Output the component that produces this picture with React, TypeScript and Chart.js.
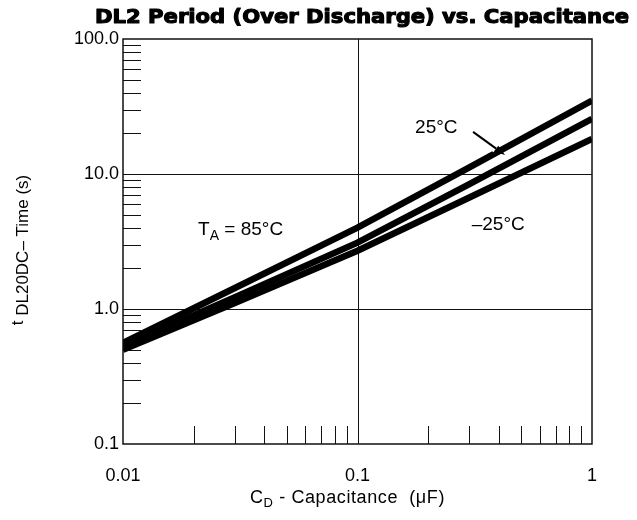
import React, { useEffect, useRef } from "react";
import { Chart, registerables } from "chart.js";

Chart.register(...registerables);

// ---- data ----
const capacitance = [0.01, 0.03, 0.1, 0.3, 1];
const time85 = [0.56, 1.43, 4.0, 11.2, 35];
const time25 = [0.53, 1.22, 3.1, 8.4, 25.6];
const timeMinus25 = [0.5, 1.11, 2.7, 6.7, 18.2];

const xTicks = [0.01, 0.1, 1];
const xTickLabels = ["0.01", "0.1", "1"];
const yTicks = [0.1, 1, 10, 100];
const yTickLabels = ["0.1", "1.0", "10.0", "100.0"];
const minorMultipliers = [2, 3, 4, 5, 6, 7, 8, 9];

const titleText = "DL2 Period (Over Discharge) vs. Capacitance";

// annotation anchors in data space
const label85 = { x: 0.0209, y: 3.53 };
const label25 = { x: 0.176, y: 20.1 };
const labelM25 = { x: 0.307, y: 3.85 };
const arrowFrom = { x: 0.311, y: 20.5 };
const arrowTo = { x: 0.426, y: 13.8 };

const FONT = "'Liberation Sans', Arial, Helvetica, sans-serif";

function pairs(ys: number[]) {
  return capacitance.map((x, i) => ({ x, y: ys[i] }));
}

function labelFor(list: number[], labels: string[], v: number) {
  for (let i = 0; i < list.length; i++) {
    if (Math.abs(Math.log10(list[i]) - Math.log10(v)) < 1e-6) return labels[i];
  }
  return "";
}

const framePlugin = {
  id: "frame",
  beforeDatasetsDraw(chart: any) {
    const { ctx, chartArea: a, scales } = chart;
    const xs = scales.x;
    const ys = scales.y;
    ctx.save();
    ctx.strokeStyle = "#111";
    ctx.lineWidth = 1;
    // major grid lines
    ctx.beginPath();
    for (const v of xTicks) {
      const px = Math.round(xs.getPixelForValue(v)) + 0.5;
      if (px > a.left + 2 && px < a.right - 2) {
        ctx.moveTo(px, a.top);
        ctx.lineTo(px, a.bottom);
      }
    }
    for (const v of yTicks) {
      const py = Math.round(ys.getPixelForValue(v)) + 0.5;
      if (py > a.top + 2 && py < a.bottom - 2) {
        ctx.moveTo(a.left, py);
        ctx.lineTo(a.right, py);
      }
    }
    ctx.stroke();
    // minor ticks
    ctx.beginPath();
    const tickLen = 18;
    for (let d = 0; d < xTicks.length - 1; d++) {
      for (const m of minorMultipliers) {
        const px = Math.round(xs.getPixelForValue(xTicks[d] * m)) + 0.5;
        ctx.moveTo(px, a.bottom);
        ctx.lineTo(px, a.bottom - tickLen);
      }
    }
    for (let d = 0; d < yTicks.length - 1; d++) {
      for (const m of minorMultipliers) {
        const py = Math.round(ys.getPixelForValue(yTicks[d] * m)) + 0.5;
        ctx.moveTo(a.left, py);
        ctx.lineTo(a.left + tickLen, py);
      }
    }
    ctx.stroke();
    ctx.restore();
  },
  afterDatasetsDraw(chart: any) {
    const { ctx, chartArea: a, scales } = chart;
    const xs = scales.x;
    const ys = scales.y;
    ctx.save();
    // border
    ctx.strokeStyle = "#111";
    ctx.lineWidth = 1.5;
    ctx.strokeRect(a.left, a.top, a.right - a.left, a.bottom - a.top);

    // arrow for 25 °C
    const x0 = xs.getPixelForValue(arrowFrom.x);
    const y0 = ys.getPixelForValue(arrowFrom.y);
    const x1 = xs.getPixelForValue(arrowTo.x);
    const y1 = ys.getPixelForValue(arrowTo.y);
    const ang = Math.atan2(y1 - y0, x1 - x0);
    const head = 11;
    const hx = x1 - head * Math.cos(ang);
    const hy = y1 - head * Math.sin(ang);
    // white halo making the break in the upper curve
    ctx.strokeStyle = "#fff";
    ctx.lineWidth = 9;
    ctx.lineCap = "butt";
    ctx.beginPath();
    ctx.moveTo(x0 + 6 * Math.cos(ang), y0 + 6 * Math.sin(ang));
    ctx.lineTo(hx, hy);
    ctx.stroke();
    ctx.strokeStyle = "#000";
    ctx.lineWidth = 2;
    ctx.beginPath();
    ctx.moveTo(x0, y0);
    ctx.lineTo(hx, hy);
    ctx.stroke();
    ctx.fillStyle = "#000";
    ctx.beginPath();
    ctx.moveTo(x1, y1);
    ctx.lineTo(hx + 3.5 * Math.sin(ang), hy - 3.5 * Math.cos(ang));
    ctx.lineTo(hx - 3.5 * Math.sin(ang), hy + 3.5 * Math.cos(ang));
    ctx.closePath();
    ctx.fill();

    // curve labels
    ctx.fillStyle = "#000";
    ctx.textBaseline = "alphabetic";
    ctx.textAlign = "left";
    ctx.font = `19px ${FONT}`;
    ctx.fillText("25°C", xs.getPixelForValue(label25.x), ys.getPixelForValue(label25.y));
    ctx.fillText("\u201325°C", xs.getPixelForValue(labelM25.x), ys.getPixelForValue(labelM25.y));
    let lx = xs.getPixelForValue(label85.x);
    const ly = ys.getPixelForValue(label85.y);
    ctx.fillText("T", lx, ly);
    lx += ctx.measureText("T").width;
    ctx.font = `14px ${FONT}`;
    ctx.fillText("A", lx, ly + 5);
    lx += ctx.measureText("A").width;
    ctx.font = `19px ${FONT}`;
    ctx.fillText(" = 85°C", lx, ly);
    ctx.restore();
  },
  afterDraw(chart: any) {
    const { ctx } = chart;
    ctx.save();
    ctx.fillStyle = "#000";
    ctx.textBaseline = "alphabetic";
    ctx.textAlign = "left";

    // title (heavy, wide)
    ctx.font = `bold 19px 'DejaVu Sans', sans-serif`;
    const tw = ctx.measureText(titleText).width;
    const targetW = 534;
    ctx.save();
    ctx.translate(95, 23);
    ctx.scale(targetW / tw, 1);
    ctx.lineJoin = "round";
    ctx.lineWidth = 1.1;
    ctx.strokeStyle = "#000";
    ctx.strokeText(titleText, 0, 0);
    ctx.fillText(titleText, 0, 0);
    ctx.restore();

    // x axis title: C_D - Capacitance  (µF)
    let x = 250;
    const yb = 503;
    ctx.font = `18px ${FONT}`;
    (ctx as any).letterSpacing = "0.6px";
    ctx.fillText("C", x, yb);
    x += ctx.measureText("C").width;
    ctx.font = `13px ${FONT}`;
    ctx.fillText("D", x, yb + 4);
    x += ctx.measureText("D").width;
    ctx.font = `18px ${FONT}`;
    ctx.fillText(" - Capacitance  (\u03bcF)", x, yb);
    (ctx as any).letterSpacing = "0px";

    // y axis title: t DL20DC– Time (s), rotated
    ctx.save();
    ctx.translate(28, 250);
    ctx.rotate(-Math.PI / 2);
    ctx.font = `17px ${FONT}`;
    const t1 = "t ";
    const t2 = "DL20DC\u2013 Time (s)";
    const w1 = ctx.measureText(t1).width;
    const w2 = ctx.measureText(t2).width;
    const sx = -(w1 + w2) / 2;
    ctx.fillText(t1, sx, -5);
    ctx.fillText(t2, sx + w1, 0);
    ctx.restore();

    ctx.restore();
  },
};

export default function App() {
  const ref = useRef<HTMLCanvasElement | null>(null);

  useEffect(() => {
    document.body.style.margin = "0";
    const canvas = ref.current;
    if (!canvas) return;
    const common = {
      borderColor: "#000",
      borderWidth: 6.5,
      pointRadius: 0,
      fill: false,
      tension: 0,
      borderCapStyle: "butt" as const,
      clip: 0,
    };
    const chart = new Chart(canvas, {
      type: "line",
      data: {
        datasets: [
          { label: "TA = 85°C", data: pairs(time85), ...common },
          { label: "25°C", data: pairs(time25), ...common },
          { label: "–25°C", data: pairs(timeMinus25), ...common },
        ],
      },
      options: {
        responsive: false,
        animation: false,
        parsing: true,
        layout: { padding: { top: 39, right: 45, left: 0, bottom: 0 } },
        plugins: {
          legend: { display: false },
          title: { display: false },
          tooltip: { enabled: false },
        },
        scales: {
          x: {
            type: "logarithmic",
            min: xTicks[0],
            max: xTicks[xTicks.length - 1],
            grid: { display: false, drawTicks: false },
            border: { display: false },
            afterBuildTicks: (s: any) => {
              s.ticks = xTicks.map((v) => ({ value: v }));
            },
            afterFit: (s: any) => {
              s.height = 76;
            },
            ticks: {
              autoSkip: false,
              maxRotation: 0,
              minRotation: 0,
              padding: 21,
              color: "#000",
              font: { family: FONT, size: 18 },
              callback: (v: any) => labelFor(xTicks, xTickLabels, Number(v)),
            },
          },
          y: {
            type: "logarithmic",
            min: yTicks[0],
            max: yTicks[yTicks.length - 1],
            grid: { display: false, drawTicks: false },
            border: { display: false },
            afterBuildTicks: (s: any) => {
              s.ticks = yTicks.map((v) => ({ value: v }));
            },
            afterFit: (s: any) => {
              s.width = 123;
            },
            ticks: {
              autoSkip: false,
              padding: 4,
              color: "#000",
              font: { family: FONT, size: 18 },
              callback: (v: any) => labelFor(yTicks, yTickLabels, Number(v)),
            },
          },
        },
      },
      plugins: [framePlugin],
    } as any);
    return () => chart.destroy();
  }, []);

  return (
    <canvas
      ref={ref}
      width={637}
      height={520}
      style={{ display: "block", width: 637, height: 520 }}
    />
  );
}
